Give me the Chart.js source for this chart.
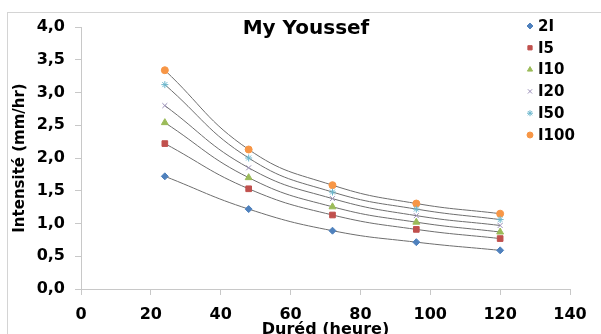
<!DOCTYPE html>
<html lang="fr">
<head>
  <meta charset="UTF-8" />
  <title>My Youssef</title>
  <script src="https://cdn.jsdelivr.net/npm/chart.js"></script>
  <style>
    body {
      margin: 0;
      background: #fff;
    }

    .frame {
      position: absolute;
      left: 7px;
      top: 12px;
      width: 600px;
      height: 330px;
      border-left: 1px solid #d4d4d4;
      border-top: 1px solid #d4d4d4;
    }

    #idfChart {
      position: absolute;
      left: 0;
      top: 0;
    }
  </style>
</head>
<body>
  <div class="frame"></div>
  <canvas id="idfChart" width="601" height="334"></canvas>

  <script>
    // durations (heure) and intensities (mm/hr) per return period
    const durations = [24, 48, 72, 96, 120];
    const i2 = [1.72, 1.22, 0.89, 0.715, 0.59];
    const i5 = [2.22, 1.53, 1.13, 0.91, 0.77];
    const i10 = [2.54, 1.70, 1.255, 1.02, 0.87];
    const i20 = [2.80, 1.85, 1.38, 1.12, 0.97];
    const i50 = [3.12, 2.00, 1.48, 1.22, 1.06];
    const i100 = [3.34, 2.13, 1.585, 1.305, 1.15];

    const seriesNames = ["2I", "I5", "I10", "I20", "I50", "I100"];
    const seriesValues = [i2, i5, i10, i20, i50, i100];
    const seriesColors = ["#4f81bd", "#c0504d", "#9bbb59", "#9a8fb8", "#6bb6cc", "#f79646"];
    const seriesMarkers = ["rectRot", "rect", "triangle", "crossRot", "star", "circle"];
    const markerSizes = [3.5, 4, 4, 3.5, 3.5, 3.5];

    const FONT = "'DejaVu Sans', sans-serif";

    const datasets = seriesNames.map((name, i) => ({
      label: name,
      data: durations.map((d, k) => ({ x: d, y: seriesValues[i][k] })),
      borderColor: "#6e6e6e",
      borderWidth: 1,
      tension: 0.45,
      pointStyle: seriesMarkers[i],
      pointRadius: markerSizes[i],
      pointBackgroundColor: seriesColors[i],
      pointBorderColor: seriesColors[i],
      pointBorderWidth: 1,
      fill: false
    }));

    // title + legend drawn over the plot, like the original sheet
    const overlay = {
      id: "overlay",
      afterDraw(chart) {
        const ctx = chart.ctx;
        ctx.save();
        ctx.fillStyle = "#000";
        ctx.textBaseline = "middle";
        ctx.textAlign = "center";
        ctx.font = "bold 20px " + FONT;
        ctx.fillText("My Youssef", 306, 29);

        ctx.textAlign = "left";
        ctx.font = "bold 15px " + FONT;
        chart.data.datasets.forEach((ds, i) => {
          const y = 26 + i * 21.8;
          ctx.fillStyle = seriesColors[i];
          ctx.strokeStyle = seriesColors[i];
          ctx.lineWidth = 1;
          Chart.helpers.drawPoint(ctx, { pointStyle: seriesMarkers[i], radius: 3, rotation: 0, borderWidth: 1 }, 530, y);
          ctx.fillStyle = "#000";
          ctx.fillText(ds.label, 538, y + 1);
        });
        ctx.restore();
      }
    };

    new Chart(document.getElementById("idfChart"), {
      type: "line",
      data: { datasets },
      plugins: [overlay],
      options: {
        responsive: false,
        animation: false,
        layout: {
          padding: { left: 0, right: 31, top: 27, bottom: 0 }
        },
        plugins: {
          legend: { display: false },
          tooltip: { enabled: false }
        },
        scales: {
          x: {
            type: "linear",
            min: 0,
            max: 140,
            afterFit: s => { s.height = 45; },
            ticks: {
              stepSize: 20,
              padding: 10,
              color: "#000",
              font: { family: FONT, size: 16, weight: "bold" }
            },
            grid: { drawOnChartArea: false, tickLength: 6, color: "#c8c8c8" },
            border: { color: "#c8c8c8" },
            title: {
              display: true,
              text: "Duréd (heure)",
              color: "#000",
              padding: { top: 0, bottom: -5 },
              font: { family: FONT, size: 16, weight: "bold" }
            }
          },
          y: {
            min: 0,
            max: 4,
            afterFit: s => { s.width = 81; },
            ticks: {
              stepSize: 0.5,
              padding: 10,
              color: "#000",
              font: { family: FONT, size: 16, weight: "bold" },
              callback: v => v.toFixed(1).replace(".", ",")
            },
            grid: { drawOnChartArea: false, tickLength: 6, color: "#c8c8c8" },
            border: { color: "#c8c8c8" },
            title: {
              display: true,
              text: "Intensité (mm/hr)",
              color: "#000",
              padding: { top: 11, bottom: 0 },
              font: { family: FONT, size: 15, weight: "bold" }
            }
          }
        }
      }
    });
  </script>
</body>
</html>
